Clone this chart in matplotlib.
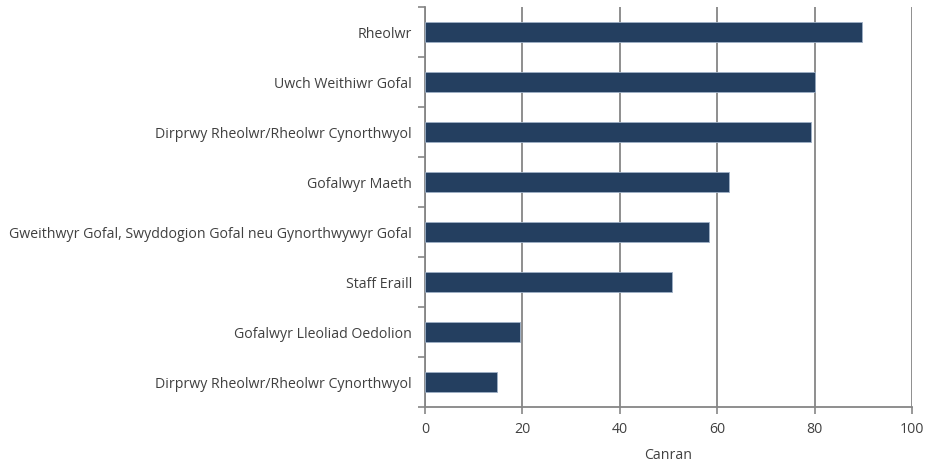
import matplotlib
matplotlib.use("Agg")
import matplotlib.pyplot as plt
from matplotlib.ticker import FixedLocator

categories = [
    "Rheolwr",
    "Uwch Weithiwr Gofal",
    "Dirprwy Rheolwr/Rheolwr Cynorthwyol",
    "Gofalwyr Maeth",
    "Gweithwyr Gofal, Swyddogion Gofal neu Gynorthwywyr Gofal",
    "Staff Eraill",
    "Gofalwyr Lleoliad Oedolion",
    "Dirprwy Rheolwr/Rheolwr Cynorthwyol",
]
values = [89.7, 80.0, 79.3, 62.4, 58.3, 50.8, 19.5, 14.8]
xticks = [0, 20, 40, 60, 80, 100]
xlabel = "Canran"

plt.rcParams['font.family'] = ['Open Sans', 'DejaVu Sans']

fig = plt.figure(figsize=(9.26, 4.64), dpi=100)
ax = fig.add_axes([425/926, 56/464, 487/926, 400/464])

grey = "#868686"
fs = 10.2
pos = list(range(len(categories)))
ax.barh(pos, values, height=0.4, color="#243F60", edgecolor="#9fb0c6", linewidth=0.6, zorder=3)

ax.set_ylim(len(categories) - 0.5, -0.5)
ax.set_xlim(0, 100)
ax.set_xticks(xticks)
ax.set_xticklabels([str(t) for t in xticks], fontsize=fs, color="#404040")
ax.set_yticks(pos)
ax.set_yticklabels(categories, fontsize=fs, color="#404040")
ax.yaxis.set_minor_locator(FixedLocator([p + 0.5 for p in range(-1, len(categories))]))
ax.tick_params(axis='y', which='major', length=0, pad=9.5)
ax.tick_params(axis='y', which='minor', length=5, width=1.2, color=grey)
ax.tick_params(axis='x', length=5, width=1.2, color=grey, pad=5)

ax.grid(axis='x', color=grey, linewidth=1.3, zorder=0)
for s in ['top', 'right']:
    ax.spines[s].set_visible(False)
for s in ['left', 'bottom']:
    ax.spines[s].set_color(grey)
    ax.spines[s].set_linewidth(1.3)

ax.set_xlabel(xlabel, fontsize=fs, color="#404040", labelpad=8)

fig.savefig("out.png", dpi=100)
